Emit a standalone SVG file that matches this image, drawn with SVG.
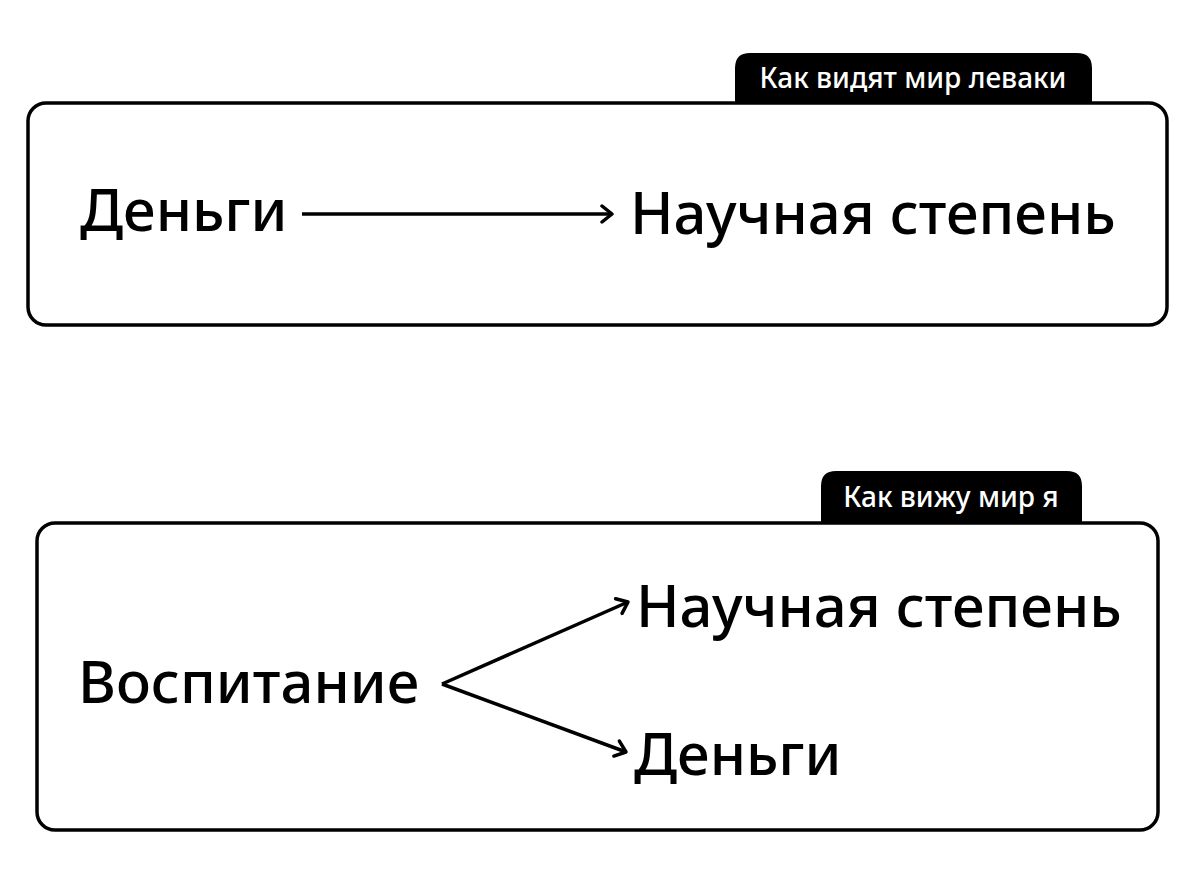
<svg xmlns="http://www.w3.org/2000/svg" width="1200" height="884" viewBox="0 0 1200 884">
<defs>
<style>
.box{fill:#fff;stroke:#000;stroke-width:3.5}
.tag{fill:#000}
.tt{fill:#fff;font-family:"Noto Sans",sans-serif;font-size:28px;font-weight:500;text-anchor:middle}
.big{fill:#000;font-family:"Noto Sans",sans-serif;font-size:58px;font-weight:500}
.ln{stroke:#000;stroke-width:3.5;fill:none;marker-end:url(#ah)}
</style>
<marker id="ah" viewBox="0 0 20 20" refX="17" refY="10" markerWidth="20" markerHeight="20" markerUnits="userSpaceOnUse" orient="auto">
<path d="M7,2 L17,10 L7,18" fill="none" stroke="#000" stroke-width="3.5" stroke-linecap="round" stroke-linejoin="round"/>
</marker>
</defs>
<rect width="1200" height="884" fill="#fff"/>
<g id="tag1"><path class="tag" d="M735,103 V68 Q735,53 750,53 H1077 Q1092,53 1092,68 V103 Z"/><text class="tt" x="913" y="88">Как видят мир леваки</text></g>
<g id="box1"><rect class="box" x="28" y="103" width="1139" height="222" rx="18"/></g>
<g id="n1"><text class="big" x="80" y="231">Деньги</text></g>
<g id="n2"><text class="big" x="630" y="234">Научная степень</text></g>
<g id="tag2"><path class="tag" d="M821,523 V486 Q821,471 836,471 H1067 Q1082,471 1082,486 V523 Z"/><text class="tt" x="951" y="507">Как вижу мир я</text></g>
<g id="box2"><rect class="box" x="37" y="523" width="1121" height="307" rx="18"/></g>
<g id="n3"><text class="big" x="78" y="703">Воспитание</text></g>
<g id="n4"><text class="big" x="636" y="627">Научная степень</text></g>
<g id="n5"><text class="big" x="634" y="775">Деньги</text></g>
<g id="edges">
<line class="ln" x1="302" y1="214" x2="612" y2="214"/>
<line class="ln" x1="442" y1="684" x2="628" y2="602"/>
<line class="ln" x1="442" y1="684" x2="626" y2="752"/>
</g>
</svg>
